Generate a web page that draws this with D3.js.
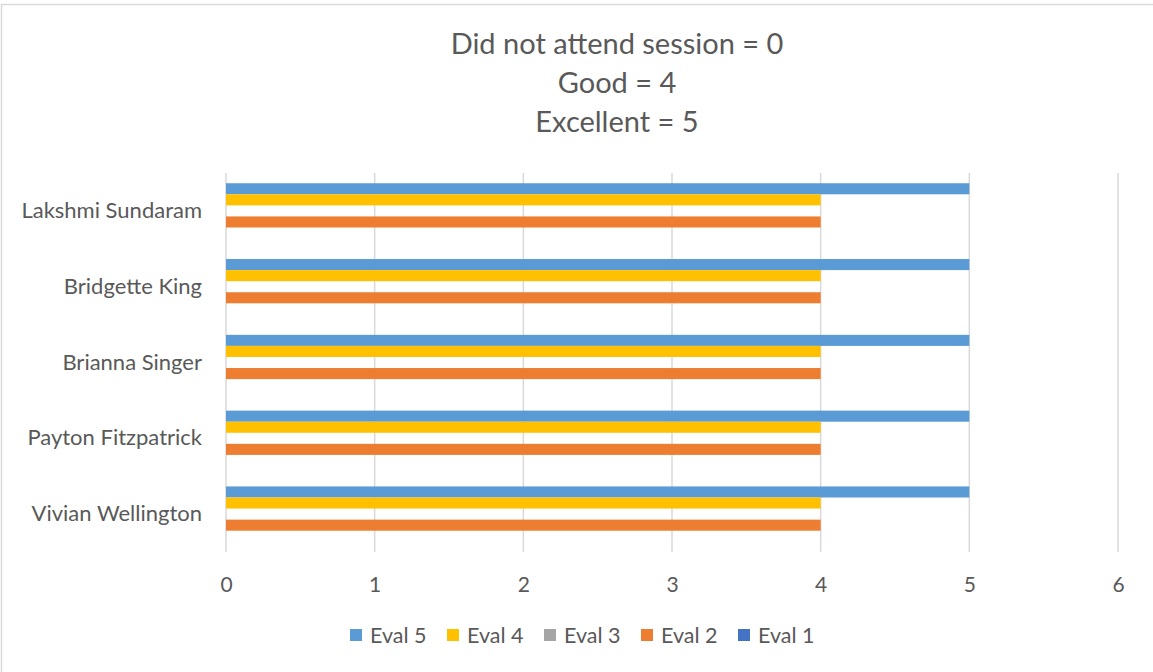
<!DOCTYPE html>
<html><head><meta charset="utf-8">
<script src="https://cdn.jsdelivr.net/npm/d3@7"></script>
<style>body{margin:0;background:#fff}svg{display:block}text{font-family:Lato,"Open Sans",sans-serif;fill:#595959}</style>
</head><body>
<svg id="c" width="1153" height="672"></svg>
<script>
const categories = ["Lakshmi Sundaram","Bridgette King","Brianna Singer","Payton Fitzpatrick","Vivian Wellington"];
const seriesNames = ["Eval 5","Eval 4","Eval 3","Eval 2","Eval 1"];
const eval5 = [5,5,5,5,5];
const eval4 = [4,4,4,4,4];
const eval3 = [0,0,0,0,0];
const eval2 = [4,4,4,4,4];
const eval1 = [0,0,0,0,0];
const seriesValues = [eval5, eval4, eval3, eval2, eval1];
const seriesColors = ["#5b9bd5","#ffc000","#a5a5a5","#ed7d31","#4472c4"];
const xTicks = [0,1,2,3,4,5,6];
const titleLines = ["Did not attend session = 0","Good = 4","Excellent = 5"];

const svg = d3.select("#c");
svg.append("rect").attr("x",1.5).attr("y",4.5).attr("width",1160).attr("height",700)
  .attr("fill","#fff").attr("stroke","#d9d9d9").attr("stroke-width",1.5);

const x = d3.scaleLinear().domain([0,6]).range([226,1118]);
const y = d3.scaleBand().domain(categories).range([173,552]).paddingInner(0.27).paddingOuter(0.135);
const yi = d3.scaleBand().domain(seriesNames).range([0,y.bandwidth()]);

// gridlines
svg.append("g").selectAll("line").data(xTicks).join("line")
  .attr("x1",d=>x(d)).attr("x2",d=>x(d)).attr("y1",173).attr("y2",552)
  .attr("stroke","#d9d9d9").attr("stroke-width",1.5);

// bars
seriesNames.forEach((s,si)=>{
  svg.append("g").selectAll("rect").data(categories).join("rect")
    .attr("x",x(0))
    .attr("y",c=>y(c)+yi(s))
    .attr("width",(c,i)=>x(seriesValues[si][i])-x(0))
    .attr("height",yi.bandwidth())
    .attr("fill",seriesColors[si]);
});

// x axis labels
const xa = svg.append("g").attr("transform","translate(0,585)").call(d3.axisBottom(x).tickValues(xTicks).tickSize(0).tickPadding(0).tickFormat(d3.format("d")));
xa.select(".domain").remove();
xa.selectAll("text").attr("font-size",21).attr("dy","0.35em").style("font-family","Lato, sans-serif").attr("fill","#595959");

// y axis labels
const ya = svg.append("g").attr("transform","translate(202,0)").call(d3.axisLeft(y).tickSize(0).tickPadding(0));
ya.select(".domain").remove();
ya.selectAll("text").attr("font-size",22).style("font-family","Lato, sans-serif").attr("fill","#595959");

// title
svg.append("g").selectAll("text").data(titleLines).join("text")
  .attr("x",617).attr("y",(d,i)=>54+i*39).attr("text-anchor","middle")
  .attr("font-size",29).text(d=>d);

// legend
const lg = svg.append("g").selectAll("g").data(seriesNames).join("g")
  .attr("transform",(d,i)=>`translate(${350+i*97},629)`);
lg.append("rect").attr("width",12).attr("height",12).attr("fill",(d,i)=>seriesColors[i]);
lg.append("text").attr("x",20).attr("y",6).attr("dy","0.35em").attr("font-size",21.5).text(d=>d);
</script>
</body></html>
